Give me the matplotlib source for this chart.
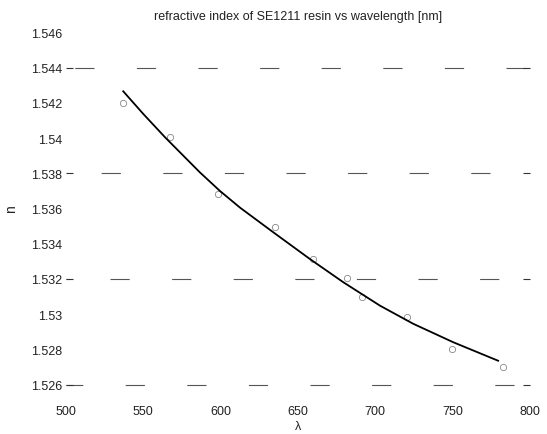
import matplotlib
matplotlib.use("Agg")
import matplotlib.pyplot as plt

# measured data points (wavelength nm, refractive index)
wl_points = [536.8, 567.2, 598.3, 635.1, 659.7, 681.6, 691.3, 720.4, 749.5, 782.5]
n_points = [1.54199, 1.54006, 1.53682, 1.53495, 1.53313, 1.53205, 1.53097, 1.52983, 1.52801, 1.52699]

# fitted curve
wl_curve = [537.0, 550.0, 564.0, 586.6, 599.5, 612.5, 634.0, 657.7, 679.3, 703.0, 724.5, 750.4, 779.4]
n_curve = [1.54266, 1.54137, 1.54005, 1.53805, 1.53700, 1.53605, 1.53465, 1.53313, 1.53181,
           1.53048, 1.52945, 1.52840, 1.52735]

x_ticks = [500, 550, 600, 650, 700, 750, 800]
y_ticks = [1.526, 1.528, 1.53, 1.532, 1.534, 1.536, 1.538, 1.54, 1.542, 1.544, 1.546]
y_tick_labels = ["1.526", "1.528", "1.53", "1.532", "1.534", "1.536", "1.538", "1.54", "1.542", "1.544", "1.546"]
grid_levels = [1.526, 1.532, 1.538, 1.544]

plt.rcParams['font.family'] = ['Liberation Sans', 'DejaVu Sans']

fig = plt.figure(figsize=(5.47, 4.35), dpi=100)
ax = fig.add_axes([66/547, 1-385.5/435, (530-66)/547, (385.5-33.5)/435])

# grid lines with the aliased dash look
px = 0.72
period = 77
on = 24
first_dash = {1.526: -3, 1.532: 55, 1.538: 44, 1.544: 11}
for lvl in grid_levels:
    d = first_dash[lvl]
    off_pos = (period - d) % period
    ax.axhline(lvl, color='#555555', lw=0.8, clip_on=False,
               linestyle=(off_pos*px, (on*px, (period-on)*px)), zorder=1)

ax.plot(wl_curve, n_curve, color='black', lw=1.3, zorder=3, solid_joinstyle='round')
ax.plot(wl_points, n_points, linestyle='none', marker='o', markersize=4.5,
        markerfacecolor='none', markeredgecolor='#888888', markeredgewidth=0.6, zorder=2)

ax.set_xlim(500, 800)
ax.set_ylim(1.526, 1.546)
ax.set_xticks(x_ticks)
ax.set_xticklabels([str(v) for v in x_ticks])
ax.set_yticks(y_ticks)
ax.set_yticklabels(y_tick_labels)

for s in ax.spines.values():
    s.set_visible(False)

ax.tick_params(axis='x', length=0, pad=15, labelsize=9, labelcolor='#222222')
ax.tick_params(axis='y', direction='in', length=5, width=0.8, color='#333333',
               pad=3, labelsize=9, labelcolor='#222222', right=True)
for val, t in zip(y_ticks, ax.yaxis.get_major_ticks()):
    if not any(abs(val - g) < 1e-9 for g in grid_levels):
        t.tick1line.set_visible(False)
        t.tick2line.set_visible(False)

ax.set_title("refractive index of SE1211 resin vs wavelength [nm]", fontsize=9,
             color='#222222', pad=10)
ax.set_ylabel("n", fontsize=10, color='#222222', labelpad=9)
ax.set_xlabel("λ", fontsize=9, color='#222222', labelpad=2)

fig.savefig("out.png", dpi=100)
